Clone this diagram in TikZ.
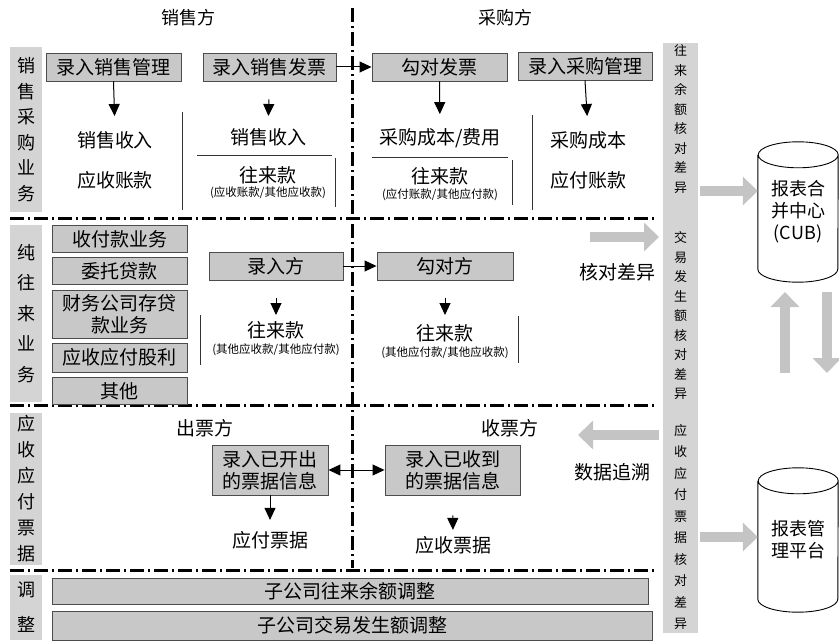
\documentclass[tikz,border=0pt]{standalone}
\usepackage{fontspec}
\setmainfont{Noto Sans CJK SC}
\usetikzlibrary{arrows.meta}
\definecolor{boxgray}{RGB}{200,200,200}
\definecolor{lblgray}{RGB}{212,212,212}
\definecolor{arrgray}{RGB}{196,196,196}
\tikzset{
  txt/.style={inner sep=1pt, font=\fontsize{19}{22}\selectfont},
  small/.style={inner sep=1pt, font=\fontsize{11.5}{13}\selectfont},
  gbox/.style={fill=boxgray, draw=black!70, line width=0.9pt, inner sep=0pt, minimum height=28pt, align=center, font=\fontsize{19}{22}\selectfont},
  lbl/.style={fill=lblgray, inner sep=0pt, minimum width=32pt, align=center},
  sep/.style={line width=3pt, dash pattern=on 14pt off 4pt on 2pt off 4pt},
  arr/.style={line width=1pt, -{Triangle[width=11pt,length=12pt]}},
  darr/.style={line width=1pt, {Triangle[width=11pt,length=12pt]}-{Triangle[width=11pt,length=12pt]}},
  thin/.style={line width=0.9pt, black!80},
  garr/.style={line width=10pt, arrgray, -{Triangle[width=28pt,length=15pt]}},
  cyl/.style={line width=0.9pt}
}
\begin{document}
\begin{tikzpicture}[x=1pt,y=-1pt]
\useasboundingbox (0,0) rectangle (839,642);

% headings
\node[txt, font=\fontsize{18}{22}\selectfont] (hs) at (188,18) {销售方};
\node[txt, font=\fontsize{18}{22}\selectfont] (hp) at (505,18) {采购方};

% separators
\draw[sep] (352,8) -- (352,568);
\draw[sep] (10,218) -- (655,218);
\draw[sep] (10,405) -- (655,405);
\draw[sep] (10,570) -- (655,570);

% left labels
\node[lbl, minimum height=165pt, font=\fontsize{18}{25.5}\selectfont] (L1) at (26,129.5) {销\\售\\采\\购\\业\\务};
\node[lbl, minimum height=177pt, font=\fontsize{18}{30.5}\selectfont] (L2) at (26,313.5) {纯\\往\\来\\业\\务};
\node[lbl, minimum height=152pt, font=\fontsize{18}{26}\selectfont] (L3) at (26,489) {应\\收\\应\\付\\票\\据};
\node[lbl, minimum height=65pt, font=\fontsize{18}{35}\selectfont] (L4) at (26,607.5) {调\\整};

% right bar
\node[lbl, minimum width=35pt, minimum height=590pt] (bar) at (680.5,338) {};
\node[inner sep=0pt, align=center, font=\fontsize{13}{19.5}\selectfont] (bt1) at (680.5,119) {往\\来\\余\\额\\核\\对\\差\\异};
\node[inner sep=0pt, align=center, font=\fontsize{13}{19.5}\selectfont] (bt2) at (680.5,316) {交\\易\\发\\生\\额\\核\\对\\差\\异};
\node[inner sep=0pt, align=center, font=\fontsize{13}{21.5}\selectfont] (bt3) at (680.5,527) {应\\收\\应\\付\\票\\据\\核\\对\\差\\异};

% ---------- row 1 ----------
\node[gbox, minimum width=135pt] (b1) at (113.5,67) {录入销售管理};
\node[gbox, minimum width=133pt] (b2) at (269.5,67) {录入销售发票};
\node[gbox, minimum width=135pt] (b3) at (439.5,67) {勾对发票};
\node[gbox, minimum width=134pt] (b4) at (585,66) {录入采购管理};

\node[txt] (t1a) at (115,140) {销售收入};
\node[txt] (t1b) at (115,180) {应收账款};
\node[txt] (t2a) at (268,137) {销售收入};
\node[txt] (t2b) at (268,175) {往来款};
\node[small] (t2c) at (268,193) {(应收账款/其他应收款)};
\node[txt] (t3a) at (440,138) {采购成本/费用};
\node[txt] (t3b) at (440,176) {往来款};
\node[small] (t3c) at (440,195) {(应付账款/其他应付款)};
\node[txt] (t4a) at (588,140) {采购成本};
\node[txt] (t4b) at (588,180) {应付账款};

\draw[thin] (182,112) -- (182,210);
\draw[thin] (197,155) -- (332,155) (335,158) -- (335,207);
\draw[thin] (372,157) -- (508,157) (512,160) -- (512,205);
\draw[thin] (532,115) -- (532,210);

\draw[arr, shorten >=14pt] (b1.south) -- (t1a.north);
\draw[arr, shorten <=18pt, shorten >=11pt] (b2.south) -- (t2a.north);
\draw[arr] (b2.east) -- (b3.west);
\draw[arr, shorten >=13pt] (b3.south) -- (t3a.north);
\draw[arr, shorten >=14pt] (b4.south) -- (t4a.north);

% ---------- row 2 ----------
\node[gbox, minimum width=135pt, minimum height=27pt] (s1) at (119.5,239) {收付款业务};
\node[gbox, minimum width=135pt, minimum height=27pt] (s2) at (119.5,271) {委托贷款};
\node[gbox, minimum width=135pt, minimum height=48pt, font=\fontsize{19}{22}\selectfont] (s3) at (119.5,314) {财务公司存贷\\款业务};
\node[gbox, minimum width=135pt, minimum height=29pt] (s4) at (119.5,357.5) {应收应付股利};
\node[gbox, minimum width=135pt, minimum height=27pt] (s5) at (119.5,391) {其他};

\node[gbox, minimum width=134pt] (r1) at (276,266) {录入方};
\node[gbox, minimum width=136pt] (r2) at (445,266) {勾对方};
\draw[arr] (r1.east) -- (r2.west);

\node[txt] (t5a) at (276,330) {往来款};
\node[small] (t5b) at (276,350) {(其他应收款/其他应付款)};
\node[txt] (t6a) at (445,333) {往来款};
\node[small] (t6b) at (445,353) {(其他应付款/其他应收款)};
\draw[thin] (200,315) -- (200,365);
\draw[thin] (518,316) -- (518,363);
\draw[arr, shorten <=18pt, shorten >=5pt] (r1.south) -- (t5a.north);
\draw[arr, shorten <=18pt, shorten >=8pt] (r2.south) -- (t6a.north);

\coordinate (g1s) at (590,237);
\coordinate (g1e) at (659,237);
\draw[garr] (g1s) -- (g1e);
\node[txt] (hd) at (617,272) {核对差异};

% ---------- row 3 ----------
\node[txt] (hc) at (205,428) {出票方};
\node[txt] (hr) at (510,428) {收票方};
\node[gbox, minimum width=116pt, minimum height=50pt] (p1) at (270,470) {录入已开出\\的票据信息};
\node[gbox, minimum width=135pt, minimum height=50pt] (p2) at (452.5,470) {录入已收到\\的票据信息};
\draw[darr] (p1.east) -- (p2.west);
\node[txt] (u1) at (270,540) {应付票据};
\node[txt] (u2) at (453,545) {应收票据};
\draw[arr, shorten >=10pt] (p1.south) -- (u1.north);
\draw[arr, shorten <=20pt, shorten >=5pt] (p2.south) -- (u2.north);

\coordinate (g2s) at (659,435);
\coordinate (g2e) at (578,435);
\draw[garr] (g2s) -- (g2e);
\node[txt] (hz) at (612,472) {数据追溯};

% ---------- row 4 ----------
\node[gbox, minimum width=596pt, minimum height=26pt] (q1) at (350,591) {子公司往来余额调整};
\node[gbox, minimum width=600pt, minimum height=29pt] (q2) at (352,625.5) {子公司交易发生额调整};

% ---------- cylinders ----------
\node[inner sep=0pt, minimum width=80pt, minimum height=140pt, align=center, font=\fontsize{18}{22}\selectfont] (c1) at (798,212) {报表合\\并中心\\(CUB)};
\draw[cyl] ([yshift=-13pt]c1.north west) -- ([yshift=13pt]c1.south west)
  arc[start angle=180,end angle=360,x radius=40pt,y radius=13pt]
  -- ([yshift=-13pt]c1.north east)
  arc[start angle=0,end angle=180,x radius=40pt,y radius=13pt]
  arc[start angle=180,end angle=360,x radius=40pt,y radius=13pt];
\node[inner sep=0pt, minimum width=80pt, minimum height=144pt, align=center, font=\fontsize{18}{22}\selectfont] (c2) at (798,540) {报表管\\理平台};
\draw[cyl] ([yshift=-13pt]c2.north west) -- ([yshift=13pt]c2.south west)
  arc[start angle=180,end angle=360,x radius=40pt,y radius=13pt]
  -- ([yshift=-13pt]c2.north east)
  arc[start angle=0,end angle=180,x radius=40pt,y radius=13pt]
  arc[start angle=180,end angle=360,x radius=40pt,y radius=13pt];

\coordinate (a1s) at (700,191);
\draw[garr] (a1s) -- (c1.west|-a1s);
\coordinate (a2s) at (700,537);
\draw[garr] (a2s) -- (c2.west|-a2s);

\coordinate (up1) at (785,373);
\coordinate (up2) at (785,292);
\draw[garr] (up1) -- (up2);
\coordinate (dn1) at (827,292);
\coordinate (dn2) at (827,373);
\draw[garr] (dn1) -- (dn2);
\end{tikzpicture}
\end{document}
